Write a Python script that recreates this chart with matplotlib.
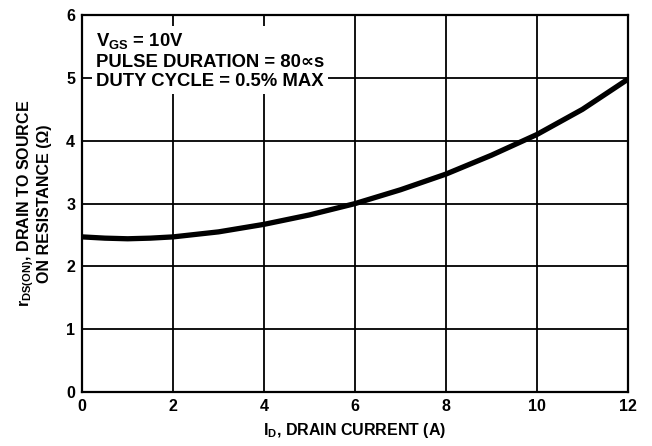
import matplotlib
matplotlib.use("Agg")
import matplotlib.pyplot as plt

plt.rcParams['font.family'] = ['Liberation Sans', 'DejaVu Sans']
plt.rcParams['font.weight'] = 'bold'
plt.rcParams['axes.labelweight'] = 'bold'
plt.rcParams['mathtext.fontset'] = 'custom'
plt.rcParams['mathtext.rm'] = 'Liberation Sans:bold'
plt.rcParams['mathtext.it'] = 'Liberation Sans:bold'
plt.rcParams['mathtext.bf'] = 'Liberation Sans:bold'

# drain current (A) and on resistance (ohm)
drain_current = [0, 0.5, 1, 1.5, 2, 3, 4, 5, 6, 7, 8, 9, 10, 11, 12]
on_resistance = [2.47, 2.45, 2.44, 2.45, 2.47, 2.55, 2.67, 2.82, 3.0, 3.22, 3.47, 3.77, 4.1, 4.5, 4.98]

x_ticks = [0, 2, 4, 6, 8, 10, 12]
y_ticks = [0, 1, 2, 3, 4, 5, 6]

fig = plt.figure(figsize=(6.52, 4.46), dpi=100)
ax = fig.add_axes([0.126, 0.121, 0.837, 0.845])

ax.plot(drain_current, on_resistance, color='black', lw=3.8, solid_capstyle='butt', zorder=3)

ax.set_xlim(0, 12)
ax.set_ylim(0, 6)
ax.set_xticks(x_ticks)
ax.set_yticks(y_ticks)
ax.grid(True, color='black', lw=1.3)
ax.tick_params(length=0, labelsize=11.5, pad=5)
for s in ax.spines.values():
    s.set_linewidth(1.6)

ax.set_xlabel(r'$\mathregular{I_D}$, DRAIN CURRENT (A)', fontsize=11.5, labelpad=5)
ax.set_ylabel('r$_{\\mathregular{DS(ON)}}$, DRAIN TO SOURCE\nON RESISTANCE (\u03a9)',
              fontsize=11.5, labelpad=10, linespacing=1.15)

ax.text(0.3, 5.74, '$\\mathregular{V_{GS}}$ = 10V\nPULSE DURATION = 80\u221ds\nDUTY CYCLE = 0.5% MAX',
        fontsize=13.3, va='top', ha='left', linespacing=1.17, zorder=4,
        bbox=dict(facecolor='white', edgecolor='none', pad=3))

fig.savefig('out.png', dpi=100)
